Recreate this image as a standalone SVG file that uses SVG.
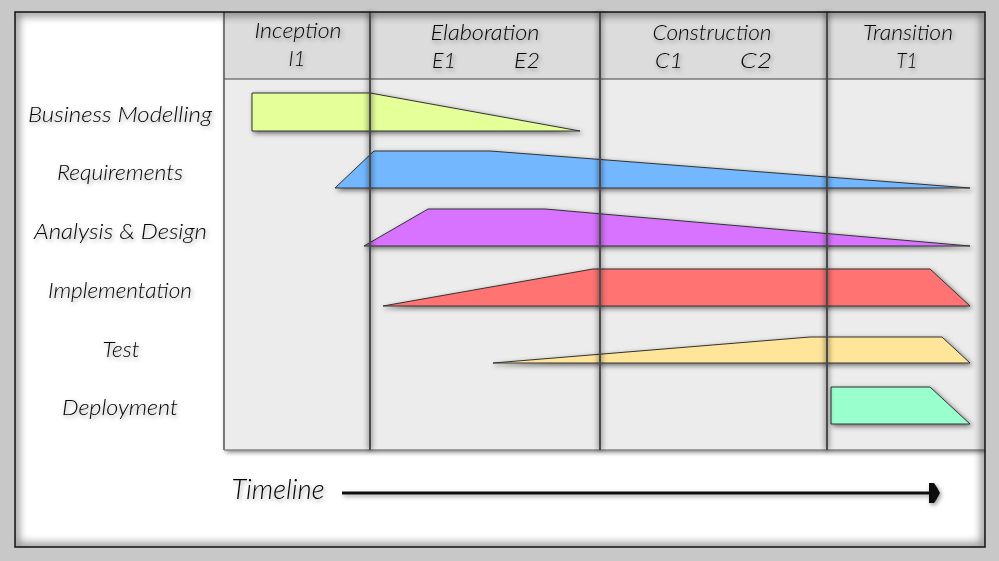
<svg xmlns="http://www.w3.org/2000/svg" width="999" height="561" viewBox="0 0 999 561">
<defs>
<filter id="ds" x="-20%" y="-50%" width="140%" height="200%">
<feDropShadow dx="2" dy="2" stdDeviation="2.5" flood-color="#000" flood-opacity="0.55"/>
</filter>
<filter id="ts" x="-20%" y="-50%" width="140%" height="200%">
<feDropShadow dx="1.5" dy="2" stdDeviation="2.2" flood-color="#000" flood-opacity="0.4"/>
</filter>
<filter id="blur4"><feGaussianBlur stdDeviation="4"/></filter>
<filter id="blur2" x="-500%" width="1100%"><feGaussianBlur stdDeviation="2.5"/></filter>
<clipPath id="pclip"><rect x="15" y="12" width="970" height="535"/></clipPath>
</defs>
<style>
.lbl{font-family:Lato,"Open Sans","DejaVu Sans",sans-serif;font-style:italic;font-weight:300;font-size:21px;fill:#000;text-anchor:middle}
.tl{font-size:27px}
.bar{stroke:#333;stroke-width:1;stroke-linejoin:miter}
.vsh{stroke:#000;stroke-width:5;opacity:0.35}
.vl{stroke:#4a4a4a;stroke-width:2}
</style>
<rect x="0" y="0" width="999" height="561" fill="#c8c8c8"/>
<rect x="15" y="12" width="970" height="535" fill="#fff"/>
<g clip-path="url(#pclip)">
<g id="grid">
<rect x="224" y="12" width="761" height="438" fill="#ececec" filter="url(#ds)"/>
<rect x="224" y="12" width="761" height="67" fill="#dcdcdc"/>
<line x1="224" y1="79" x2="985" y2="79" stroke="#444" stroke-width="1"/>
<line x1="224" y1="12" x2="224" y2="450" stroke="#555" stroke-width="1.5"/>
<line x1="224" y1="450" x2="985" y2="450" stroke="#888" stroke-width="1.5"/>
</g>
<rect x="15" y="12" width="970" height="535" fill="none" stroke="#000" stroke-width="8" opacity="0.45" filter="url(#blur4)"/>
</g>
<g id="bars">
<polygon id="bar-business" class="bar" filter="url(#ds)" fill="#e5ff99" points="252,93 370,93 580,131 252,131"/>
<polygon id="bar-requirements" class="bar" filter="url(#ds)" fill="#73b8ff" points="335,188 374,151 490,151 970,188"/>
<polygon id="bar-analysis" class="bar" filter="url(#ds)" fill="#d873ff" points="364,246 428,209 545,209 970,246"/>
<polygon id="bar-implementation" class="bar" filter="url(#ds)" fill="#ff7373" points="383,306 593,269 930,269 970,306"/>
<polygon id="bar-test" class="bar" filter="url(#ds)" fill="#ffe599" points="493,363 810,337 942,337 970,363"/>
<polygon id="bar-deployment" class="bar" filter="url(#ds)" fill="#99ffcc" points="831,387 930,387 970,424 831,424"/>
</g>
<g id="phase-lines">
<g filter="url(#blur2)">
<line class="vsh" x1="370" y1="12" x2="370" y2="450"/>
<line class="vsh" x1="600" y1="12" x2="600" y2="450"/>
<line class="vsh" x1="827" y1="12" x2="827" y2="450"/>
</g>
<line class="vl" x1="370" y1="12" x2="370" y2="450"/>
<line class="vl" x1="600" y1="12" x2="600" y2="450"/>
<line class="vl" x1="827" y1="12" x2="827" y2="450"/>
</g>
<rect x="15" y="12" width="970" height="535" fill="none" stroke="#111" stroke-width="1.5"/>
<g id="phase-inception" filter="url(#ts)">
<text class="lbl" x="298" y="37.5" textLength="87" lengthAdjust="spacingAndGlyphs">Inception</text>
<text class="lbl" x="297" y="65.5" textLength="17" lengthAdjust="spacingAndGlyphs">I1</text>
</g>
<g id="phase-elaboration" filter="url(#ts)">
<text class="lbl" x="485" y="40" textLength="109" lengthAdjust="spacingAndGlyphs">Elaboration</text>
<text class="lbl" x="444" y="68" textLength="24" lengthAdjust="spacingAndGlyphs">E1</text>
<text class="lbl" x="527" y="68" textLength="26" lengthAdjust="spacingAndGlyphs">E2</text>
</g>
<g id="phase-construction" filter="url(#ts)">
<text class="lbl" x="712" y="40" textLength="119" lengthAdjust="spacingAndGlyphs">Construction</text>
<text class="lbl" x="669" y="68" textLength="28" lengthAdjust="spacingAndGlyphs">C1</text>
<text class="lbl" x="756" y="68" textLength="32" lengthAdjust="spacingAndGlyphs">C2</text>
</g>
<g id="phase-transition" filter="url(#ts)">
<text class="lbl" x="908" y="40" textLength="90" lengthAdjust="spacingAndGlyphs">Transition</text>
<text class="lbl" x="907" y="68" textLength="21" lengthAdjust="spacingAndGlyphs">T1</text>
</g>
<g id="row-business" filter="url(#ts)"><text class="lbl" x="120" y="121.5" textLength="184" lengthAdjust="spacingAndGlyphs">Business Modelling</text></g>
<g id="row-requirements" filter="url(#ts)"><text class="lbl" x="120" y="180.3" textLength="126" lengthAdjust="spacingAndGlyphs">Requirements</text></g>
<g id="row-analysis" filter="url(#ts)"><text class="lbl" x="120.5" y="239" textLength="173" lengthAdjust="spacingAndGlyphs">Analysis &amp; Design</text></g>
<g id="row-implementation" filter="url(#ts)"><text class="lbl" x="120" y="297.8" textLength="144" lengthAdjust="spacingAndGlyphs">Implementation</text></g>
<g id="row-test" filter="url(#ts)"><text class="lbl" x="121" y="356.7" textLength="37" lengthAdjust="spacingAndGlyphs">Test</text></g>
<g id="row-deployment" filter="url(#ts)"><text class="lbl" x="120" y="415.3" textLength="116" lengthAdjust="spacingAndGlyphs">Deployment</text></g>
<g id="timeline-label" filter="url(#ts)"><text class="lbl tl" x="278" y="499.3" textLength="93" lengthAdjust="spacingAndGlyphs">Timeline</text></g>
<g id="connectors" filter="url(#ts)">
<line x1="342" y1="493" x2="930" y2="493" stroke="#111" stroke-width="3"/>
<path d="M929,483 L934,483 Q937,487 940,493 Q937,499 934,503 L929,503 Z" fill="#111"/>
</g>
</svg>
